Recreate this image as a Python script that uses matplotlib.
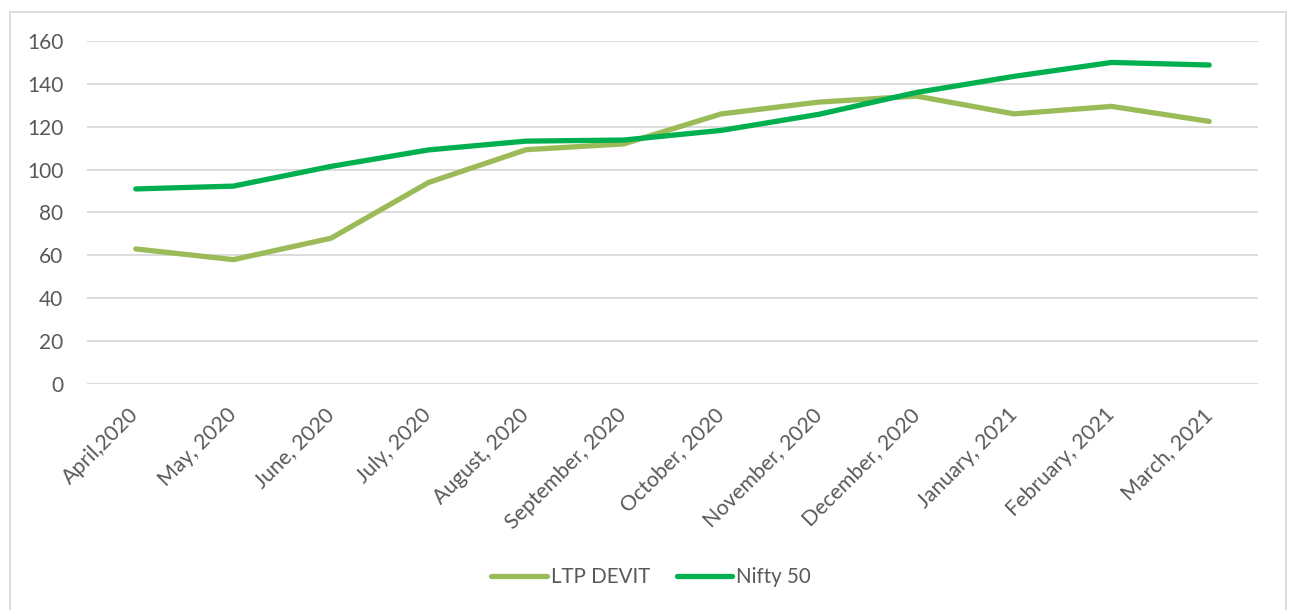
import matplotlib
matplotlib.use("Agg")
import matplotlib.pyplot as plt
from matplotlib.patches import Rectangle

months = ["April,2020", "May, 2020", "June, 2020", "July, 2020", "August, 2020",
          "September, 2020", "October, 2020", "November, 2020", "December, 2020",
          "January, 2021", "February, 2021", "March, 2021"]
ltp_devit = [63, 58, 68, 94, 109.3, 112, 126, 131.5, 134.3, 126, 129.5, 122.5]
nifty_50 = [91, 92.3, 101.5, 109.2, 113.3, 113.8, 118.3, 125.8, 136, 143.5, 150, 148.8]
yticks = [0, 20, 40, 60, 80, 100, 120, 140, 160]

plt.rcParams['font.family'] = ['Lato', 'DejaVu Sans']

W, H = 1290, 610
fig = plt.figure(figsize=(W / 100, H / 100), dpi=100)
fig.patches.append(Rectangle((10 / W, -0.02), (1286 - 10) / W, 1.02 - 12 / H,
                             transform=fig.transFigure, fill=False,
                             edgecolor='#D9D9D9', linewidth=1.3))

ax = fig.add_axes([87 / W, 1 - 384 / H, (1258 - 87) / W, (384 - 41) / H])
x = list(range(len(months)))
ax.plot(x, ltp_devit, color='#9BBB59', linewidth=3.8, solid_capstyle='round', label='LTP DEVIT')
ax.plot(x, nifty_50, color='#00B050', linewidth=3.8, solid_capstyle='round', label='Nifty 50')

ax.set_xlim(-0.5, len(months) - 0.5)
ax.set_ylim(0, 160)
ax.set_yticks(yticks)
ax.set_yticklabels([str(v) for v in yticks], fontsize=15, color='#595959')
ax.set_xticks(x)
ax.set_xticklabels(months, rotation=45, ha='right', va='center', rotation_mode='anchor',
                   fontsize=15.3, color='#595959')
ax.tick_params(axis='both', length=0)
ax.tick_params(axis='y', pad=17)
ax.tick_params(axis='x', pad=20)
ax.grid(axis='y', color='#D9D9D9', linewidth=1.3)
ax.set_axisbelow(True)
for s in ax.spines.values():
    s.set_visible(False)

fig.legend(loc='center', bbox_to_anchor=(0.5 + 6 / W, 1 - 577 / H), ncol=2, frameon=False,
           fontsize=14.8, handlelength=2.7, columnspacing=1.3, handletextpad=0.2,
           labelcolor='#595959')

fig.savefig("out.png", dpi=100)
